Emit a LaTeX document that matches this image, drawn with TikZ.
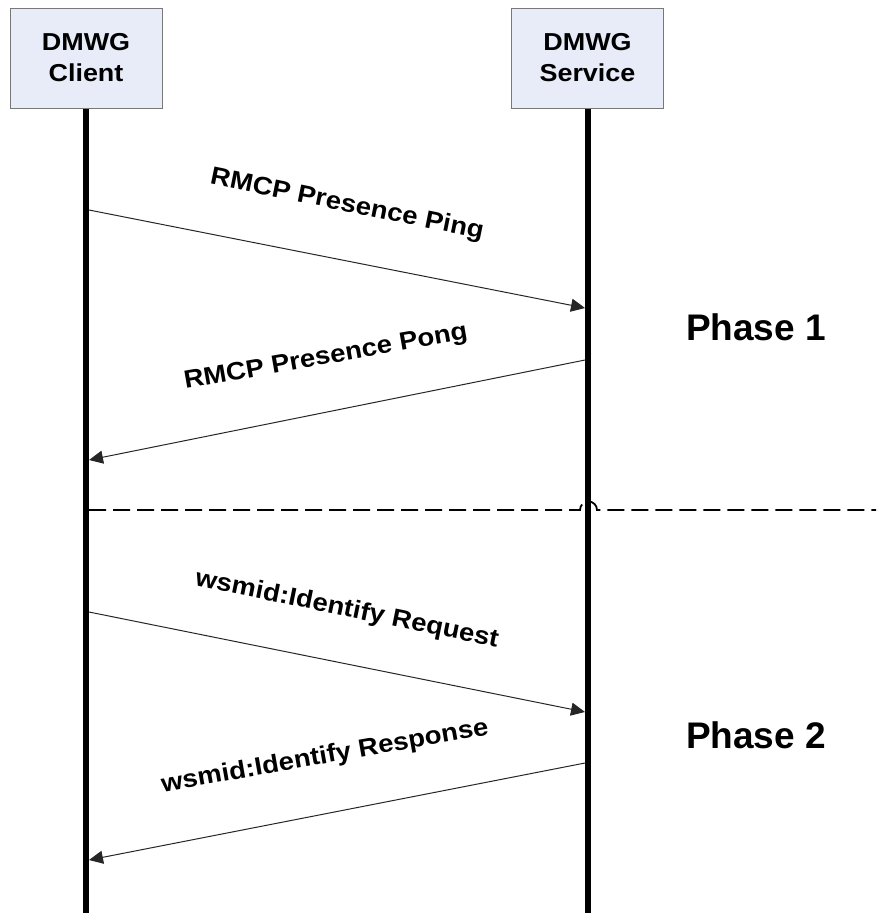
\documentclass[tikz,border=0pt]{standalone}
\usepackage{fontspec}
\setmainfont{Liberation Sans}[FakeStretch=1.1]
\newfontfamily\phasefont{Liberation Sans}
\usetikzlibrary{arrows.meta}
\definecolor{boxfill}{RGB}{232,236,248}
\definecolor{boxline}{RGB}{120,120,120}
\begin{document}
\begin{tikzpicture}[x=1pt,y=-1pt,
  actor/.style={draw=boxline, line width=1pt, fill=boxfill, minimum width=152pt, minimum height=100pt, align=center, inner sep=0pt, font=\fontsize{24.5}{31}\selectfont\bfseries},
  lifeline/.style={line width=6pt},
  msg/.style={draw=black!85, line width=1pt, -{Triangle[length=14pt,width=13pt]}},
  msglabel/.style={font=\fontsize{25}{28}\selectfont\bfseries, inner sep=0pt},
  phase/.style={font=\phasefont\fontsize{37}{40}\selectfont\bfseries, inner sep=0pt},
  sep/.style={line width=1.8pt, dash pattern=on 17pt off 7pt}]
\useasboundingbox (0,0) rectangle (876,913);
% actors
\node[actor] (client) at (86,58) {DMWG\\Client};
\node[actor] (service) at (587.5,58) {DMWG\\Service};
% lifeline ends
\coordinate (cEnd) at (86,913);
\coordinate (sEnd) at (588,913);
% separator
\coordinate (d0) at (89,510);
\coordinate (dh) at (580,510);
\coordinate (d1) at (876,510);
\draw[sep] (d0) -- (dh) arc[start angle=180, end angle=360, radius=8.5] -- (d1);
% lifelines
\draw[lifeline] (client.south) -- (cEnd);
\draw[lifeline] (service.south -| sEnd) -- (sEnd);
% message endpoints
\coordinate (c1) at (89,210);  \coordinate (s1) at (585,308);
\coordinate (s2) at (585,360); \coordinate (c2) at (89,460);
\coordinate (c3) at (89,612);  \coordinate (s3) at (585,712);
\coordinate (s4) at (585,763); \coordinate (c4) at (89,860);
\draw[msg] (c1) -- (s1);
\draw[msg] (s2) -- (c2);
\draw[msg] (c3) -- (s3);
\draw[msg] (s4) -- (c4);
% labels
\node[msglabel, rotate=-11.5] (l1) at (347,205) {RMCP Presence Ping};
\node[msglabel, rotate=10] (l2) at (326,358) {RMCP Presence Pong};
\node[msglabel, rotate=-11.5] (l3) at (347,610) {wsmid:Identify Request};
\node[msglabel, rotate=10] (l4) at (325,757) {wsmid:Identify Response};
\node[phase] (p1) at (756,327) {Phase 1};
\node[phase] (p2) at (756,735) {Phase 2};
\end{tikzpicture}
\end{document}
